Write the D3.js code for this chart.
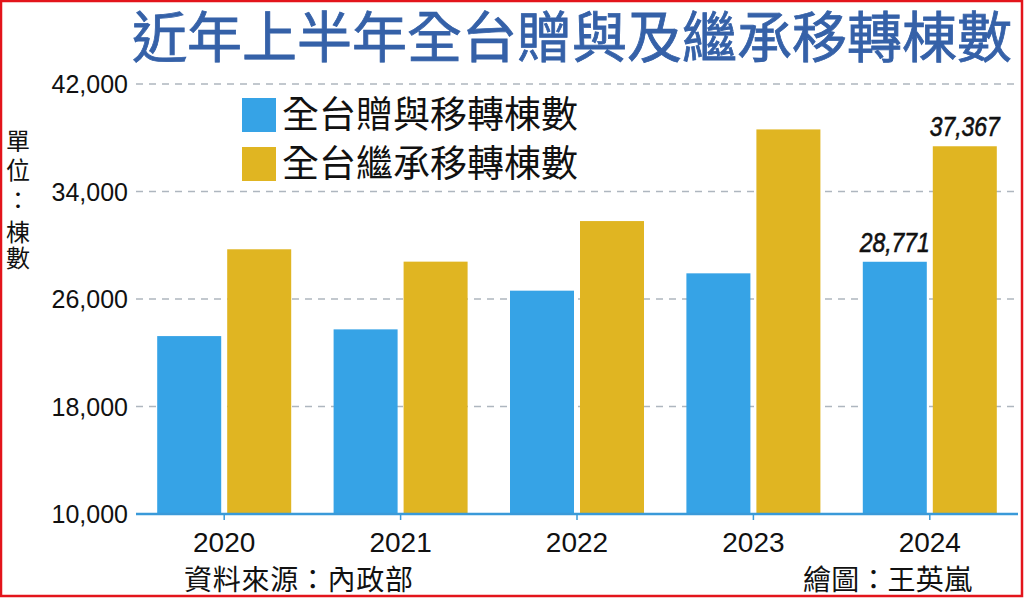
<!DOCTYPE html>
<html>
<head>
<meta charset="utf-8">
<script src="https://cdn.jsdelivr.net/npm/d3@7"></script>
<style>
  body { margin: 0; background: #fff; }
  svg { display: block; }
</style>
</head>
<body>
<svg class="chart"></svg>
<script>
var years = ["2020", "2021", "2022", "2023", "2024"];
var giftCounts = [23240, 23740, 26620, 27910, 28771];
var inheritCounts = [29700, 28780, 31800, 38620, 37367];
var seriesNames = ["全台贈與移轉棟數", "全台繼承移轉棟數"];
var seriesColors = ["#36a3e6", "#e0b522"];
var yTicks = [10000, 18000, 26000, 34000, 42000];
var shownLabels = [{ year: "2024", series: 0 }, { year: "2024", series: 1 }];

var svgWidth = 1024, svgHeight = 598;
var cjk = "'Noto Sans CJK TC', 'Noto Sans CJK SC', sans-serif";
var latin = "'Liberation Sans', Arial, sans-serif";

var svg = d3.select(".chart")
    .attr("width", svgWidth)
    .attr("height", svgHeight);

svg.append("rect")
    .attr("x", 1).attr("y", 1)
    .attr("width", svgWidth - 3).attr("height", svgHeight - 3)
    .attr("fill", "#fff")
    .attr("stroke", "#e3141b")
    .attr("stroke-width", 2.5);

var x0 = d3.scaleBand()
    .domain(years)
    .range([136, 1018]);

var x1 = d3.scaleBand()
    .domain([0, 1])
    .range([21.2, 155.2])
    .paddingInner(0.0857);

var y = d3.scaleLinear()
    .domain([10000, 42000])
    .range([514, 84]);

// grid lines
svg.append("g")
    .selectAll("line")
    .data(yTicks.slice(1))
    .enter()
    .append("line")
    .attr("x1", 136)
    .attr("x2", 1018)
    .attr("y1", function(d) { return y(d); })
    .attr("y2", function(d) { return y(d); })
    .attr("stroke", "#aeb6bf")
    .attr("stroke-width", 1.5)
    .attr("stroke-dasharray", "7,6");

// y labels
svg.append("g")
    .selectAll("text")
    .data(yTicks)
    .enter()
    .append("text")
    .attr("x", 128)
    .attr("y", function(d) { return y(d); })
    .attr("dy", "0.36em")
    .attr("text-anchor", "end")
    .attr("font-family", latin)
    .attr("font-size", 25)
    .attr("fill", "#111")
    .text(function(d) { return d3.format(",")(d); });

// bars
var table = years.map(function(yr, i) {
    return { year: yr, values: [giftCounts[i], inheritCounts[i]] };
});

var groups = svg.append("g")
    .selectAll("g")
    .data(table)
    .enter()
    .append("g")
    .attr("transform", function(d) { return "translate(" + x0(d.year) + ",0)"; });

groups.selectAll("rect")
    .data(function(d) { return d.values.map(function(v, s) { return { year: d.year, s: s, v: v }; }); })
    .enter()
    .append("rect")
    .attr("x", function(d) { return x1(d.s); })
    .attr("y", function(d) { return y(d.v); })
    .attr("width", x1.bandwidth())
    .attr("height", function(d) { return y(10000) - y(d.v); })
    .attr("fill", function(d) { return seriesColors[d.s]; });

// value labels
svg.append("g")
    .selectAll("text")
    .data(shownLabels)
    .enter()
    .append("text")
    .attr("x", function(d) { return x0(d.year) + x1(d.series) + x1.bandwidth() / 2; })
    .attr("y", function(d) {
        var i = years.indexOf(d.year);
        var v = d.series === 0 ? giftCounts[i] : inheritCounts[i];
        return y(v) - 10;
    })
    .attr("text-anchor", "middle")
    .attr("font-family", latin)
    .attr("font-style", "italic")
    .attr("font-size", 27)
    .attr("textLength", 70)
    .attr("lengthAdjust", "spacingAndGlyphs")
    .attr("fill", "#111")
    .attr("stroke", "#111")
    .attr("stroke-width", 0.6)
    .text(function(d) {
        var i = years.indexOf(d.year);
        return d3.format(",")(d.series === 0 ? giftCounts[i] : inheritCounts[i]);
    });

// x axis
var xAxis = svg.append("g")
    .attr("transform", "translate(0,514)");

xAxis.append("line")
    .attr("x1", 136).attr("x2", 1018)
    .attr("stroke", "#3a9ad9")
    .attr("stroke-width", 2.5);

xAxis.selectAll(".tick")
    .data(years)
    .enter()
    .append("line")
    .attr("class", "tick")
    .attr("x1", function(d) { return x0(d) + x0.bandwidth() / 2; })
    .attr("x2", function(d) { return x0(d) + x0.bandwidth() / 2; })
    .attr("y1", 0).attr("y2", 6)
    .attr("stroke", "#3a9ad9")
    .attr("stroke-width", 1.5);

xAxis.selectAll("text")
    .data(years)
    .enter()
    .append("text")
    .attr("x", function(d) { return x0(d) + x0.bandwidth() / 2; })
    .attr("y", 38)
    .attr("text-anchor", "middle")
    .attr("font-family", latin)
    .attr("font-size", 28)
    .attr("fill", "#111")
    .text(function(d) { return d; });

// legend
var legend = svg.append("g")
    .selectAll("g")
    .data(seriesNames)
    .enter()
    .append("g")
    .attr("transform", function(d, i) { return "translate(242," + (98 + i * 49) + ")"; });

legend.append("rect")
    .attr("width", 34).attr("height", 34)
    .attr("fill", function(d, i) { return seriesColors[i]; });

legend.append("text")
    .attr("x", 40)
    .attr("y", 17)
    .attr("dy", "0.35em")
    .attr("font-family", cjk)
    .attr("font-size", 37)
    .attr("fill", "#111")
    .text(function(d) { return d; });

// title
svg.append("text")
    .attr("x", 132)
    .attr("y", 37)
    .attr("dy", "0.36em")
    .attr("font-family", cjk)
    .attr("font-size", 55)
    .attr("textLength", 880)
    .attr("fill", "#3561a8")
    .attr("stroke", "#3561a8")
    .attr("stroke-width", 0.8)
    .text("近年上半年全台贈與及繼承移轉棟數");

// unit label (vertical), one text with a tspan per character
var unitChars = ["單", "位", "：", "棟", "數"];
var unitY = [141, 170, 200, 232, 258];
svg.append("text")
    .attr("font-family", cjk)
    .attr("font-size", 24)
    .attr("text-anchor", "middle")
    .attr("fill", "#111")
    .selectAll("tspan")
    .data(unitChars)
    .enter()
    .append("tspan")
    .attr("x", 18)
    .attr("y", function(d, i) { return unitY[i] + 8.5; })
    .text(function(d) { return d; });

// footer
svg.append("text")
    .attr("x", 184)
    .attr("y", 580)
    .attr("dy", "0.36em")
    .attr("font-family", cjk)
    .attr("font-size", 28)
    .attr("textLength", 229)
    .attr("fill", "#111")
    .text("資料來源：內政部");

svg.append("text")
    .attr("x", 803)
    .attr("y", 580)
    .attr("dy", "0.36em")
    .attr("font-family", cjk)
    .attr("font-size", 28)
    .attr("textLength", 169)
    .attr("fill", "#111")
    .text("繪圖：王英嵐");
</script>
</body>
</html>
